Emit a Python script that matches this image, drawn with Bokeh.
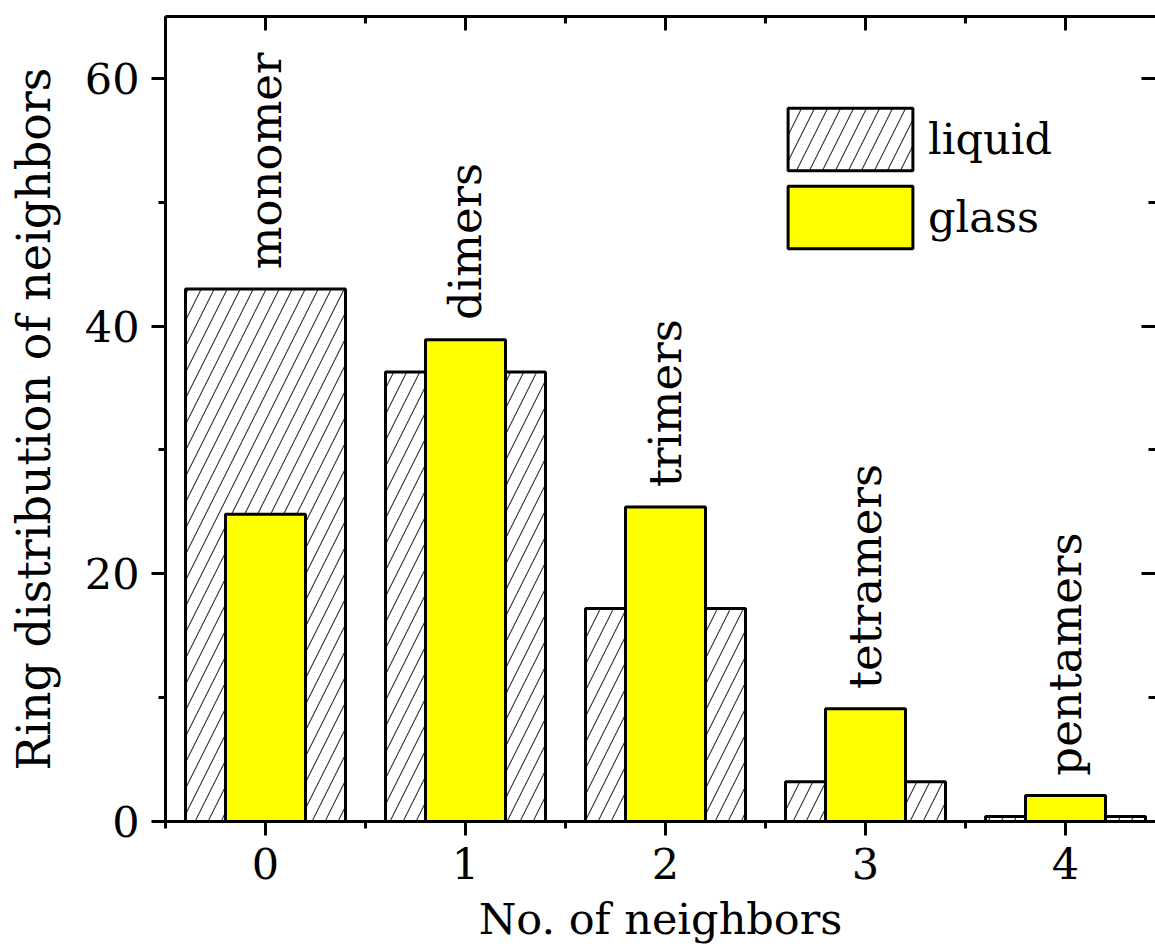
import numpy as np
from bokeh.plotting import figure
from bokeh.models import (Range1d, FixedTicker, LinearAxis, Legend, LegendItem,
                          ColumnDataSource, CustomJSTickFormatter)
from bokeh.embed import file_html
from bokeh.resources import INLINE
from bokeh.core.properties import value

# ---- data ----
neighbors = [0, 1, 2, 3, 4]
cluster_names = ["monomer", "dimers", "trimers", "tetramers", "pentamers"]
liquid = [43.0, 36.3, 17.2, 3.2, 0.4]
glass = [24.8, 38.9, 25.4, 9.1, 2.1]
x_ticks = [0, 1, 2, 3, 4]
y_ticks = [0, 20, 40, 60]

FONT = "DejaVu Serif"
FS = "43px"

p = figure(width=1155, height=952, output_backend="svg", toolbar_location=None,
           x_range=Range1d(-0.5, 4.45), y_range=Range1d(0, 65),
           x_axis_location=None, y_axis_location=None,
           min_border_left=165, min_border_top=16, min_border_bottom=131,
           min_border_right=0)
p.outline_line_color = None
p.xgrid.visible = False
p.ygrid.visible = False
p.background_fill_color = "white"
p.border_fill_color = "white"

xt = FixedTicker(ticks=x_ticks, minor_ticks=[v - 0.5 for v in x_ticks] + [x_ticks[-1] + 0.5])
yt = FixedTicker(ticks=y_ticks, minor_ticks=[v + 10 for v in y_ticks[:-1]])


def style_axis(ax, inward, labels):
    ax.axis_line_width = 3
    ax.major_tick_line_width = 3
    ax.minor_tick_line_width = 3
    if inward:
        ax.major_tick_in, ax.major_tick_out = 14, 0
        ax.minor_tick_in, ax.minor_tick_out = 7, 0
    else:
        ax.major_tick_in, ax.major_tick_out = 0, 14
        ax.minor_tick_in, ax.minor_tick_out = 0, 7
    if labels:
        ax.major_label_text_font = FONT
        ax.major_label_text_font_size = FS
        ax.major_label_text_color = "black"
        ax.axis_label_text_font = FONT
        ax.axis_label_text_font_size = FS
        ax.axis_label_text_font_style = "normal"
        ax.axis_label_text_color = "black"
    else:
        ax.formatter = CustomJSTickFormatter(code="return ''")
        ax.major_label_text_font_size = "1px"
        ax.major_label_standoff = 0


bottom = LinearAxis(ticker=xt, axis_label="No. of neighbors")
style_axis(bottom, False, True)
bottom.major_label_standoff = 12
bottom.axis_label_standoff = 12
p.add_layout(bottom, "below")

left = LinearAxis(ticker=yt, axis_label="Ring distribution of neighbors")
style_axis(left, False, True)
left.axis_label_text_font_size = "46px"
left.major_label_standoff = 12
left.axis_label_standoff = 21
p.add_layout(left, "left")

top = LinearAxis(ticker=xt)
style_axis(top, True, False)
p.add_layout(top, "above")

right = LinearAxis(ticker=yt)
style_axis(right, True, False)
right.axis_line_color = None
p.add_layout(right, "right")

src = ColumnDataSource(dict(x=neighbors, liquid=liquid, glass=glass, name=cluster_names,
                            label_y=list(np.maximum(liquid, glass) + 1.6)))

r_liq = p.vbar(x="x", top="liquid", bottom=0, width=0.8, source=src,
               fill_color="white", line_color="black", line_width=3,
               hatch_pattern="/", hatch_scale=26, hatch_color="#333333",
               hatch_weight=1.1)
r_gl = p.vbar(x="x", top="glass", bottom=0, width=0.4, source=src,
              fill_color="#ffff00", line_color="black", line_width=3)

p.text(x="x", y="label_y", text="name", source=src, angle=np.pi / 2,
       text_align="left", text_baseline="middle",
       text_font=value(FONT), text_font_size="45px", text_color="black")

legend = Legend(items=[LegendItem(label="liquid", renderers=[r_liq]),
                       LegendItem(label="glass", renderers=[r_gl])],
                location=(607, 565), glyph_width=156, glyph_height=78,
                spacing=0, label_standoff=0, padding=0, margin=0,
                border_line_color=None, background_fill_alpha=0,
                label_text_font=FONT, label_text_font_size=FS,
                label_text_color="black")
p.add_layout(legend)

open("out.html", "w").write(file_html(p, INLINE))
